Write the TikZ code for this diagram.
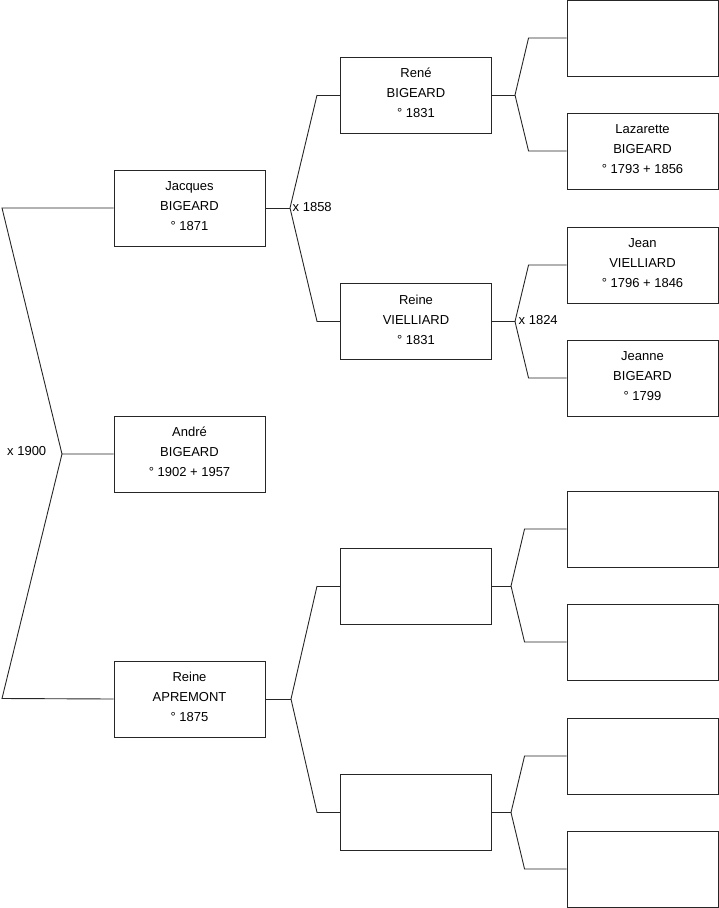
\documentclass[tikz,border=0pt]{standalone}
\usepackage{fontspec}
\setmainfont{Liberation Sans}
\begin{document}
\begin{tikzpicture}[x=1pt,y=-1pt,
  person/.style={draw=black!85, line width=0.9pt, minimum width=151pt, minimum height=76pt,
    inner sep=0pt, align=center, font=\fontsize{13}{20}\selectfont},
  link/.style={draw=black!85, line width=0.9pt},
  marr/.style={anchor=west, inner sep=0pt, font=\fontsize{13}{14}\selectfont}]
\useasboundingbox (0,0) rectangle (719,908);
% generation 0
\node[person] (andre) at (189.5,454) {André\\BIGEARD\\° 1902 + 1957\\[-16pt]};
% generation 1
\node[person] (jacques) at (189.5,208) {Jacques\\BIGEARD\\° 1871\\[-16pt]};
\node[person] (reineA) at (189.5,699) {Reine\\APREMONT\\° 1875\\[-16pt]};
% generation 2
\node[person] (rene) at (416,95) {René\\BIGEARD\\° 1831\\[-16pt]};
\node[person] (reineV) at (416,321.5) {Reine\\VIELLIARD\\° 1831\\[-16pt]};
\node[person] (b1) at (416,586) {};
\node[person] (b2) at (416,812.5) {};
% generation 3
\node[person] (g1) at (642.5,38) {};
\node[person] (g2) at (642.5,151) {Lazarette\\BIGEARD\\° 1793 + 1856\\[-16pt]};
\node[person] (g3) at (642.5,265) {Jean\\VIELLIARD\\° 1796 + 1846\\[-16pt]};
\node[person] (g4) at (642.5,378) {Jeanne\\BIGEARD\\° 1799\\[-16pt]};
\node[person] (g5) at (642.5,529) {};
\node[person] (g6) at (642.5,642) {};
\node[person] (g7) at (642.5,756) {};
\node[person] (g8) at (642.5,869) {};
% junctions
\coordinate (j0) at (62,454);
\coordinate (t0) at (2,208);
\coordinate (u0) at (2,698.5);
\coordinate (j1) at (290,208);
\coordinate (j2) at (291,699);
\coordinate (j3) at (515,95);
\coordinate (j4) at (515,321.5);
\coordinate (j5) at (511,586);
\coordinate (j6) at (511,812.5);
% connectors
\draw[link] (andre.west) -- (j0) -- (t0) -- (jacques.west);
\draw[link] (j0) -- (u0) -- (reineA.west);
\draw[link] (jacques.east) -- (j1);
\draw[link] ([xshift=-23pt]rene.west) -- (j1) -- ([xshift=-23pt]reineV.west) -- (reineV.west);
\draw[link] ([xshift=-23pt]rene.west) -- (rene.west);
\draw[link] (reineA.east) -- (j2);
\draw[link] ([xshift=-23pt]b1.west) -- (j2) -- ([xshift=-23pt]b2.west) -- (b2.west);
\draw[link] ([xshift=-23pt]b1.west) -- (b1.west);
\draw[link] (rene.east) -- (j3);
\draw[link] (g1.west) -- ([xshift=-38pt]g1.west) -- (j3) -- ([xshift=-38pt]g2.west) -- (g2.west);
\draw[link] (reineV.east) -- (j4);
\draw[link] (g3.west) -- ([xshift=-38pt]g3.west) -- (j4) -- ([xshift=-38pt]g4.west) -- (g4.west);
\draw[link] (b1.east) -- (j5);
\draw[link] (g5.west) -- ([xshift=-42pt]g5.west) -- (j5) -- ([xshift=-42pt]g6.west) -- (g6.west);
\draw[link] (b2.east) -- (j6);
\draw[link] (g7.west) -- ([xshift=-42pt]g7.west) -- (j6) -- ([xshift=-42pt]g8.west) -- (g8.west);
% marriage labels
\node[marr] (m1900) at (7,451) {x 1900};
\node[marr] (m1858) at (292.5,207) {x 1858};
\node[marr] (m1824) at (518.5,320) {x 1824};
\end{tikzpicture}
\end{document}
